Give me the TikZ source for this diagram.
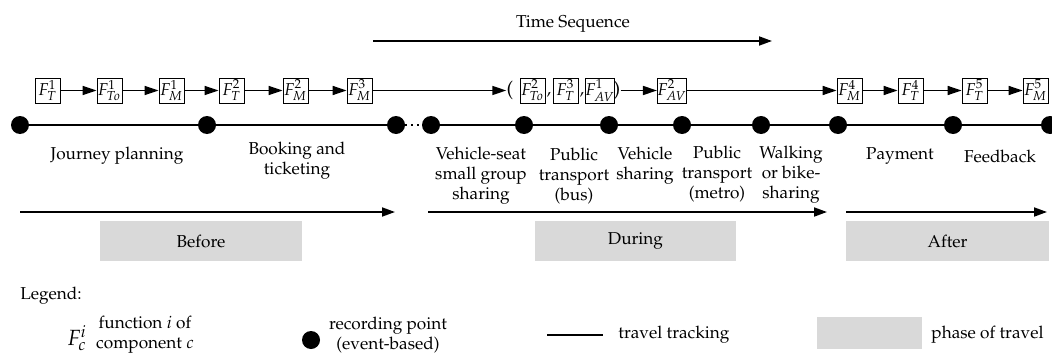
\documentclass[tikz,border=0pt]{standalone}
\usepackage[T1]{fontenc}
\usepackage{mathpazo}
\usetikzlibrary{arrows.meta}
\definecolor{phasegray}{RGB}{217,217,217}
\tikzset{
  lbl/.style={font=\fontsize{8.6}{10}\selectfont, align=center, inner sep=0pt},
  fbox/.style={draw, line width=0.4pt, minimum width=12.5pt, minimum height=12.5pt,
               inner sep=0pt, font=\fontsize{8.6}{9}\selectfont},
  rp/.style={circle, fill=black, minimum size=9pt, inner sep=0pt},
  track/.style={line width=0.9pt},
  fa/.style={line width=0.8pt, -{Triangle[length=7pt,width=4.5pt]}},
  pa/.style={line width=0.9pt, -{Triangle[length=6.5pt,width=4.5pt]}},
  phase/.style={fill=phasegray, minimum height=20pt, inner sep=0pt,
                font=\fontsize{8.6}{10}\selectfont},
}
\begin{document}
\begin{tikzpicture}[x=0.5pt, y=-0.5pt]
\useasboundingbox (0,0) rectangle (1052,358);

% time sequence
\node[lbl] (ts) at (573,24) {Time Sequence};
\coordinate (ts1) at (373,41);
\coordinate (ts2) at (772,41);
\draw[pa] (ts1) -- (ts2);

% functions along the journey
\node[fbox] (f1)  at (47.5,90.5)  {$F_{T}^{1}$};
\node[fbox] (f2)  at (109.5,90.5) {$F_{To}^{1}$};
\node[fbox] (f3)  at (171.5,90.5) {$F_{M}^{1}$};
\node[fbox] (f4)  at (231.5,90.5) {$F_{T}^{2}$};
\node[fbox] (f5)  at (295.5,90.5) {$F_{M}^{2}$};
\node[fbox] (f6)  at (359.5,90.5) {$F_{M}^{3}$};
\node[lbl, font=\fontsize{10}{12}\selectfont] (lp) at (510,90.5) {(};
\node[fbox] (f7)  at (532.5,90.5) {$F_{To}^{2}$};
\node[lbl] (cm1) at (549,95) {,};
\node[fbox] (f8)  at (565.5,90.5) {$F_{T}^{3}$};
\node[lbl] (cm2) at (582,95) {,};
\node[fbox] (f9)  at (600,90.5)   {$F_{AV}^{1}$};
\node[lbl, font=\fontsize{10}{12}\selectfont] (rpar) at (617,90.5) {)};
\node[fbox] (f10) at (672,90.5)   {$F_{AV}^{2}$};
\node[fbox] (f11) at (849.5,90.5) {$F_{M}^{4}$};
\node[fbox] (f12) at (910.5,90.5) {$F_{T}^{4}$};
\node[fbox] (f13) at (974.5,90.5) {$F_{T}^{5}$};
\node[fbox] (f14) at (1035.5,90.5) {$F_{M}^{5}$};

\draw[fa] (f1) -- (f2);
\draw[fa] (f2) -- (f3);
\draw[fa] (f3) -- (f4);
\draw[fa] (f4) -- (f5);
\draw[fa] (f5) -- (f6);
\draw[fa] (f6) -- (lp);
\draw[fa] (rpar) -- (f10);
\draw[fa] (f10) -- (f11);
\draw[fa] (f11) -- (f12);
\draw[fa] (f12) -- (f13);
\draw[fa] (f13) -- (f14);

% recording points on the travel track
\foreach \n/\x in {1/20,2/207,3/396,4/431,5/524,6/609,7/682,8/761,9/838,10/953,11/1050}
  \node[rp] (p\n) at (\x,125) {};
\draw[track] (p1) -- (p2);
\draw[track] (p2) -- (p3);
\draw[track, dotted] (p3) -- (p4);
\foreach \a/\b in {4/5,5/6,6/7,7/8,8/9,9/10,10/11}
  \draw[track] (p\a) -- (p\b);

% stages
\node[lbl] (s1) at (117,156)   {Journey planning};
\node[lbl] (s2) at (297,160.5) {Booking and\\ticketing};
\node[lbl] (s3) at (481,176)   {Vehicle-seat\\small group\\sharing};
\node[lbl] (s4) at (574,176)   {Public\\transport\\(bus)};
\node[lbl] (s5) at (645,166)   {Vehicle\\sharing};
\node[lbl] (s6) at (717,174)   {Public\\transport\\(metro)};
\node[lbl] (s7) at (791,175)   {Walking\\or bike-\\sharing};
\node[lbl] (s8) at (900,156)   {Payment};
\node[lbl] (s9) at (1000,156)  {Feedback};

% phases
\coordinate (b1) at (20,212);  \coordinate (b2) at (395,212);
\coordinate (d1) at (428,212); \coordinate (d2) at (827,212);
\coordinate (a1) at (846,212); \coordinate (a2) at (1047,212);
\draw[pa] (b1) -- (b2);
\draw[pa] (d1) -- (d2);
\draw[pa] (a1) -- (a2);
\node[phase, minimum width=101pt]   (before) at (201,241)   {Before};
\node[phase, minimum width=100.5pt] (during) at (635.5,241) {During};
\node[phase, minimum width=101.5pt] (after)  at (947.5,241) {After};

% legend
\node[lbl, anchor=west] (lg) at (20,296) {Legend:};
\node[inner sep=0pt, font=\fontsize{11}{12}\selectfont] (lf) at (77,338) {$F_{c}^{i}$};
\node[lbl] (lft) at (145,335) {function $i$ of\\component $c$};
\node[rp] (lrp) at (311,340) {};
\node[lbl] (lrpt) at (388,335) {recording point\\(event-based)};
\coordinate (lt1) at (547,335);
\coordinate (lt2) at (603,335);
\draw[track] (lt1) -- (lt2);
\node[lbl, anchor=west] (ltt) at (618,335) {travel tracking};
\node[phase, minimum width=52.5pt, minimum height=16pt] (lph) at (869.5,333) {};
\node[lbl, anchor=west] (lpht) at (931,335) {phase of travel};
\end{tikzpicture}
\end{document}
